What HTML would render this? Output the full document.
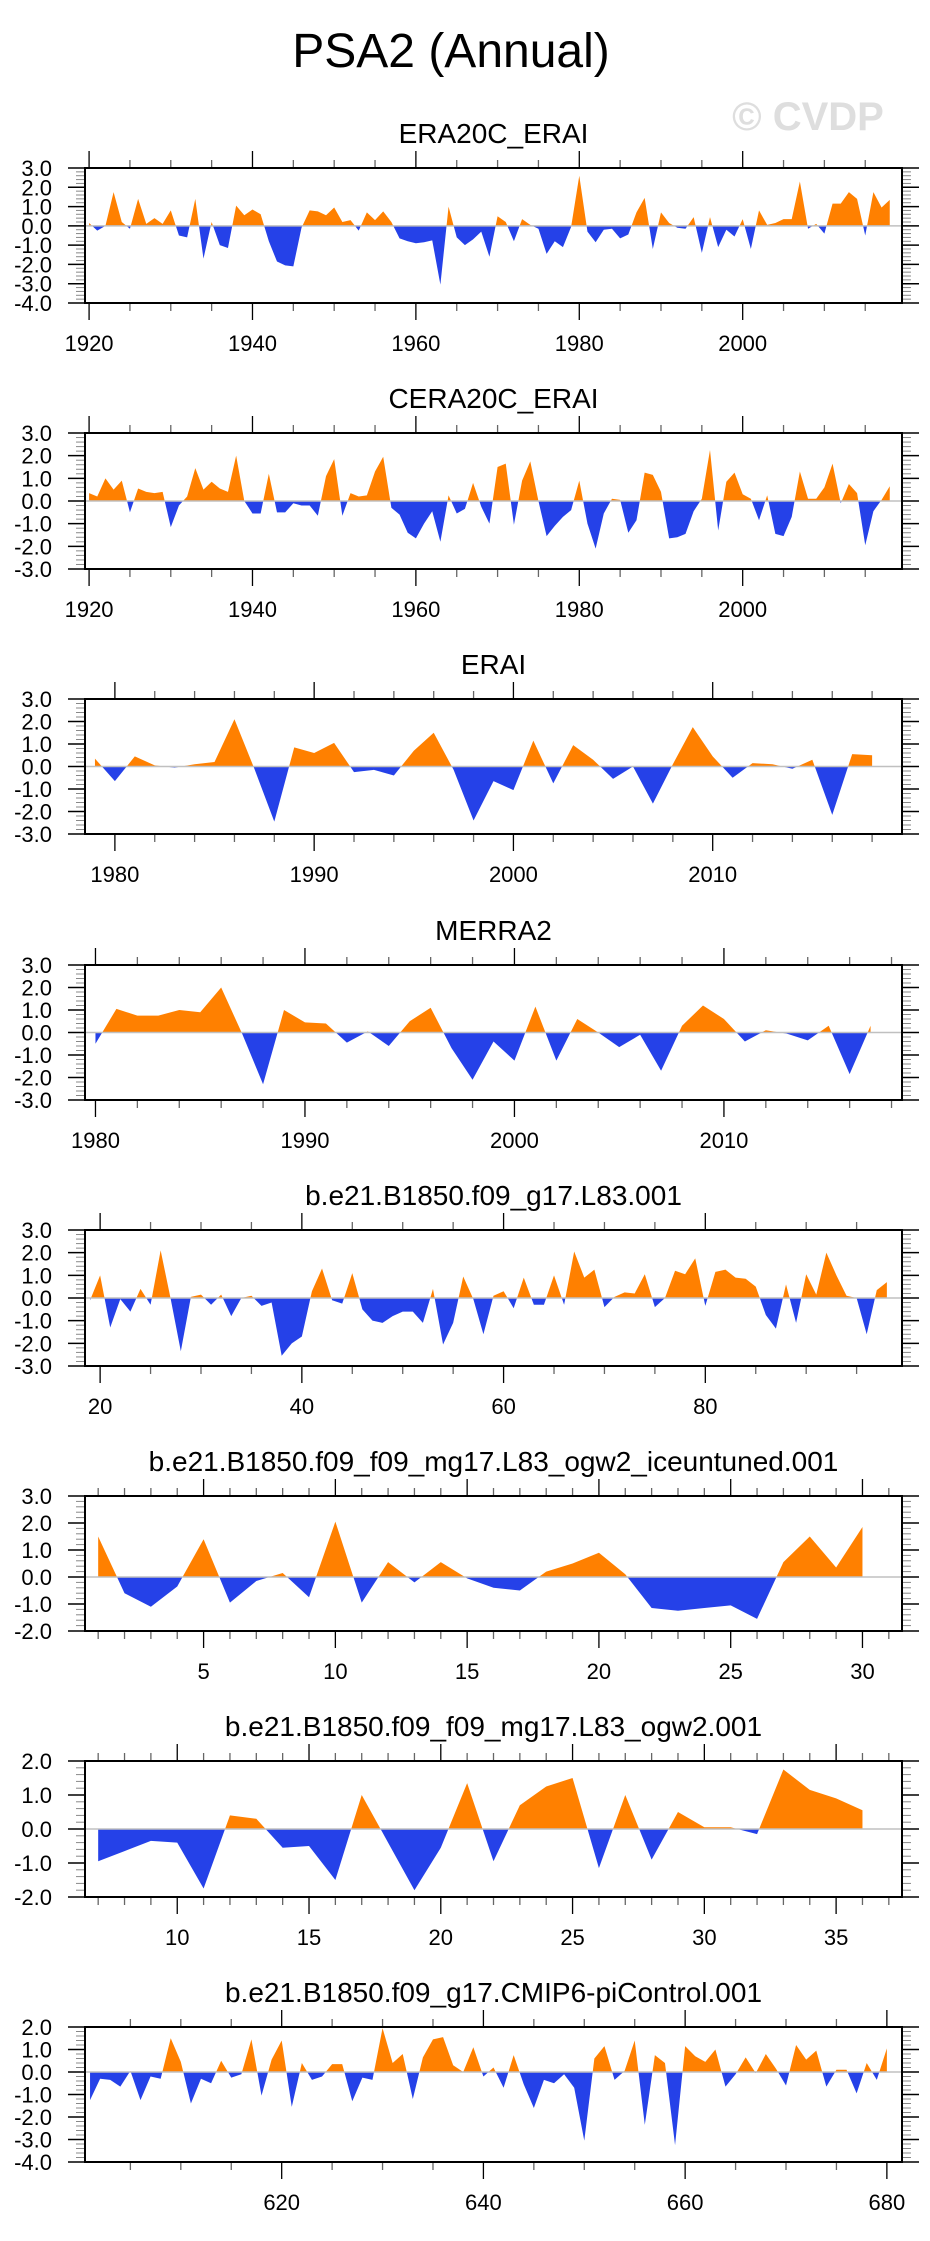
<!DOCTYPE html>
<html><head><meta charset="utf-8">
<style>
html,body{margin:0;padding:0;background:#fff;}
svg{display:block;font-family:"Liberation Sans",sans-serif;}
</style></head>
<body>
<svg id="chart" width="930" height="2241" viewBox="0 0 930 2241">
<text x="451" y="67" font-size="48" text-anchor="middle">PSA2 (Annual)</text>
<text x="808" y="130" font-size="40" font-weight="bold" fill="#dedede" text-anchor="middle">© CVDP</text>
</svg>
<script>
const era20cYears = [1920, 2018];
const era20cValues = [0.15,-0.25,0.0,1.75,0.2,-0.15,1.4,0.1,0.4,0.1,0.8,-0.5,-0.6,1.4,-1.7,0.2,-1.0,-1.15,1.05,0.55,0.85,0.6,-0.8,-1.85,-2.05,-2.1,-0.1,0.8,0.75,0.55,0.95,0.2,0.3,-0.25,0.7,0.3,0.75,0.2,-0.65,-0.8,-0.9,-0.85,-0.75,-3.05,1.0,-0.6,-1.0,-0.7,-0.3,-1.6,0.5,0.2,-0.8,0.35,0.05,-0.15,-1.45,-0.8,-1.1,-0.05,2.6,-0.3,-0.85,-0.2,-0.15,-0.65,-0.45,0.7,1.45,-1.2,0.7,0.15,-0.1,-0.15,0.45,-1.4,0.45,-1.1,-0.2,-0.55,0.35,-1.2,0.8,0.05,0.15,0.35,0.35,2.3,-0.15,0.1,-0.4,1.15,1.15,1.75,1.4,-0.5,1.75,0.95,1.35];
const cera20cValues = [0.35,0.2,1.0,0.5,0.9,-0.5,0.55,0.4,0.35,0.4,-1.15,-0.2,0.2,1.45,0.5,0.85,0.55,0.4,2.0,0.0,-0.55,-0.55,1.2,-0.5,-0.5,-0.1,-0.2,-0.2,-0.65,1.1,1.85,-0.65,0.35,0.2,0.25,1.3,1.95,-0.3,-0.6,-1.4,-1.65,-1.0,-0.45,-1.8,0.25,-0.55,-0.35,0.8,-0.25,-1.0,1.5,1.65,-1.05,0.9,1.75,0.0,-1.55,-1.1,-0.7,-0.4,0.9,-1.0,-2.1,-0.55,0.1,0.05,-1.4,-0.85,1.25,1.15,0.4,-1.65,-1.6,-1.45,-0.45,0.1,2.25,-1.3,0.85,1.25,0.3,0.1,-0.85,0.25,-1.45,-1.55,-0.7,1.3,0.1,0.1,0.6,1.65,-0.1,0.75,0.35,-1.95,-0.45,0.05,0.65];
const eraiValues = [0.35,-0.65,0.45,0.05,-0.05,0.1,0.2,2.1,-0.1,-2.45,0.85,0.6,1.05,-0.25,-0.15,-0.4,0.7,1.5,-0.15,-2.4,-0.65,-1.05,1.15,-0.75,0.95,0.3,-0.55,0.0,-1.65,0.1,1.75,0.45,-0.5,0.15,0.1,-0.1,0.3,-2.15,0.55,0.5];
const merra2Values = [-0.5,1.05,0.75,0.75,1.0,0.9,2.0,-0.05,-2.3,1.0,0.45,0.4,-0.45,0.05,-0.6,0.5,1.1,-0.7,-2.1,-0.4,-1.25,1.15,-1.25,0.6,0.0,-0.65,-0.1,-1.7,0.3,1.2,0.6,-0.4,0.1,-0.05,-0.35,0.3,-1.85,0.3];
const l83Values = [-0.1,1.0,-1.3,-0.05,-0.6,0.4,-0.3,2.1,-0.05,-2.35,0.05,0.15,-0.3,0.15,-0.8,0.0,0.1,-0.35,-0.2,-2.55,-2.0,-1.7,0.3,1.3,-0.1,-0.25,1.1,-0.5,-1.0,-1.1,-0.8,-0.6,-0.6,-1.1,0.4,-2.05,-1.1,0.95,-0.05,-1.6,0.1,0.3,-0.45,0.9,-0.3,-0.3,1.0,-0.3,2.05,0.9,1.25,-0.4,0.05,0.25,0.2,1.05,-0.4,0.0,1.2,1.05,1.75,-0.35,1.15,1.25,0.9,0.85,0.5,-0.75,-1.35,0.6,-1.1,1.05,0.15,2.0,1.0,0.1,0.0,-1.6,0.35,0.7];
const iceValues = [1.5,-0.6,-1.1,-0.35,1.4,-0.95,-0.15,0.15,-0.75,2.05,-0.95,0.55,-0.2,0.55,-0.05,-0.4,-0.5,0.2,0.5,0.9,0.1,-1.15,-1.25,-1.15,-1.05,-1.55,0.55,1.5,0.35,1.85];
const ogw2Values = [-0.95,-0.65,-0.35,-0.4,-1.75,0.4,0.3,-0.55,-0.5,-1.5,1.0,-0.4,-1.8,-0.55,1.35,-0.95,0.7,1.25,1.5,-1.15,1.0,-0.9,0.5,0.05,0.05,-0.15,1.75,1.15,0.9,0.55];
const piValues = [-1.25,-0.3,-0.35,-0.65,0.05,-1.25,-0.2,-0.3,1.5,0.45,-1.4,-0.3,-0.5,0.5,-0.25,-0.1,1.45,-1.05,0.55,1.4,-1.55,0.4,-0.35,-0.2,0.35,0.35,-1.3,-0.25,-0.35,1.95,0.4,0.8,-1.2,0.65,1.45,1.55,0.3,0.0,1.1,-0.2,0.2,-0.7,0.75,-0.55,-1.6,-0.35,-0.5,-0.1,-0.7,-3.05,0.6,1.15,-0.35,0.05,1.4,-2.35,0.75,0.4,-3.25,1.15,0.7,0.45,1.0,-0.65,-0.1,0.65,-0.05,0.8,0.15,-0.6,1.2,0.55,0.95,-0.65,0.1,0.1,-0.95,0.4,-0.35,1.05];
const panelTitles = ["ERA20C_ERAI","CERA20C_ERAI","ERAI","MERRA2","b.e21.B1850.f09_g17.L83.001","b.e21.B1850.f09_f09_mg17.L83_ogw2_iceuntuned.001","b.e21.B1850.f09_f09_mg17.L83_ogw2.001","b.e21.B1850.f09_g17.CMIP6-piControl.001"];
const panelStartX = [1920,1920,1979,1980,19,1,7,601];

const NS="http://www.w3.org/2000/svg";
const svg=document.getElementById('chart');
function mk(tag,attrs,parent){const e=document.createElementNS(NS,tag);for(const k in attrs)e.setAttribute(k,attrs[k]);(parent||svg).appendChild(e);return e;}

const panels=[
 {vals:era20cValues,top:168,bot:303,ymin:-4,ymax:3,xmin:1919.5,xmax:2019.5,maj:20,min:5},
 {vals:cera20cValues,top:433,bot:569,ymin:-3,ymax:3,xmin:1919.5,xmax:2019.5,maj:20,min:5},
 {vals:eraiValues,top:699,bot:834,ymin:-3,ymax:3,xmin:1978.5,xmax:2019.5,maj:10,min:2},
 {vals:merra2Values,top:965,bot:1100,ymin:-3,ymax:3,xmin:1979.5,xmax:2018.5,maj:10,min:2},
 {vals:l83Values,top:1230,bot:1366,ymin:-3,ymax:3,xmin:18.5,xmax:99.5,maj:20,min:5},
 {vals:iceValues,top:1496,bot:1631,ymin:-2,ymax:3,xmin:0.5,xmax:31.5,maj:5,min:1},
 {vals:ogw2Values,top:1761,bot:1897,ymin:-2,ymax:2,xmin:6.5,xmax:37.5,maj:5,min:1},
 {vals:piValues,top:2027,bot:2162,ymin:-4,ymax:2,xmin:600.5,xmax:681.5,maj:20,min:5}
];
const L=85,R=902;
panels.forEach((p,pi)=>{
 const g=mk('g',{});
 
 
 const xs=v=>L+(v-p.xmin)/(p.xmax-p.xmin)*(R-L);
 const ys=v=>p.bot-(v-p.ymin)/(p.ymax-p.ymin)*(p.bot-p.top);
 const t=mk('text',{x:(L+R)/2,y:p.top-25,'font-size':28,'text-anchor':'middle'},g);
 t.textContent=panelTitles[pi];
 
 
 const cid='c'+pi;
 const defs=mk('defs',{},g);
 const c1=mk('clipPath',{id:cid+'p'},defs);mk('rect',{x:L,y:p.top,width:R-L,height:ys(0)-p.top},c1);
 const c2=mk('clipPath',{id:cid+'n'},defs);mk('rect',{x:L,y:ys(0),width:R-L,height:p.bot-ys(0)},c2);
 const x0=panelStartX[pi];
 let d='M'+xs(x0)+','+ys(0);
 p.vals.forEach((v,i)=>{d+=' L'+xs(x0+i).toFixed(2)+','+ys(v).toFixed(2);});
 d+=' L'+xs(x0+p.vals.length-1)+','+ys(0)+' Z';
 const a1=mk('path',{d:d,fill:'#ff8000','clip-path':'url(#'+cid+'p)'},g);
 
 
 const a2=mk('path',{d:d,fill:'#2541e8','clip-path':'url(#'+cid+'n)'},g);
 
 
 const zl=mk('line',{x1:L,x2:R,y1:ys(0),y2:ys(0),stroke:'#c0c0c0','stroke-width':1.5},g);
 
 
 // y ticks
 for(let v=p.ymin;v<=p.ymax+1e-9;v+=0.2){
  const yy=ys(v);const major=Math.abs(v-Math.round(v))<1e-6;
  const len=major?17:9,col=major?'#000':'#888',w=major?1.5:1;
  mk('line',{x1:L-len,x2:L,y1:yy,y2:yy,stroke:col,'stroke-width':w},g);
  mk('line',{x1:R,x2:R+len,y1:yy,y2:yy,stroke:col,'stroke-width':w},g);
  if(major){const lb=mk('text',{x:L-33,y:yy+8,'font-size':22,'text-anchor':'end'},g);
   lb.textContent=Math.round(v).toFixed(1);
   
   }
 }
 // x ticks
 const s=Math.ceil(p.xmin/p.min)*p.min;
 for(let v=s;v<=p.xmax;v+=p.min){
  const xx=xs(v);const major=v%p.maj===0;
  const len=major?17:8,col=major?'#000':'#666';
  mk('line',{x1:xx,x2:xx,y1:p.top-len,y2:p.top,stroke:col,'stroke-width':1.3},g);
  mk('line',{x1:xx,x2:xx,y1:p.bot,y2:p.bot+len,stroke:col,'stroke-width':1.3},g);
  if(major){const lb=mk('text',{x:xx,y:p.bot+48,'font-size':22,'text-anchor':'middle'},g);
   lb.textContent=String(v);
   
   }
 }
 const bx=mk('rect',{x:L,y:p.top,width:R-L,height:p.bot-p.top,fill:'none',stroke:'#000','stroke-width':2},g);
 
 
});
</script>
</body></html>
